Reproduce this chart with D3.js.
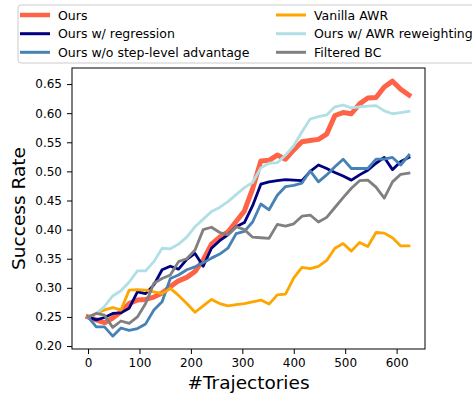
<!DOCTYPE html>
<html><head><meta charset="utf-8">
<script src="https://cdn.jsdelivr.net/npm/d3@7"></script>
<style>body{margin:0;background:#fff;}svg{display:block;font-family:"DejaVu Sans",sans-serif;}</style>
</head><body>
<svg id="c" width="472" height="394"></svg>
<script>
const xStep = 16;
const seriesNames = ["Ours","Ours w/ regression","Ours w/o step-level advantage","Vanilla AWR","Ours w/ AWR reweighting","Filtered BC"];
const seriesColors = ["#ff6347","#000080","#4682b4","#ffa500","#b0e0e6","#808080"];
const ours = [0.250,0.245,0.240,0.248,0.259,0.273,0.279,0.280,0.284,0.291,0.302,0.312,0.318,0.328,0.348,0.375,0.387,0.396,0.414,0.432,0.470,0.518,0.519,0.528,0.521,0.537,0.551,0.553,0.555,0.564,0.596,0.601,0.599,0.616,0.626,0.627,0.645,0.655,0.641,0.631];
const regression = [0.250,0.245,0.249,0.256,0.257,0.265,0.293,0.290,0.305,0.331,0.337,0.332,0.349,0.359,0.337,0.368,0.381,0.391,0.405,0.412,0.441,0.478,0.482,0.484,0.486,0.485,0.484,0.500,0.511,0.505,0.498,0.492,0.485,0.494,0.502,0.514,0.524,0.503,0.517,0.524];
const noStep = [0.250,0.233,0.233,0.217,0.231,0.227,0.230,0.238,0.262,0.276,0.316,0.322,0.331,0.336,0.343,0.351,0.358,0.368,0.393,0.397,0.413,0.444,0.434,0.459,0.474,0.476,0.480,0.501,0.482,0.494,0.508,0.521,0.505,0.505,0.505,0.521,0.521,0.524,0.511,0.528];
const vanillaAWR = [0.250,0.256,0.262,0.266,0.262,0.296,0.297,0.296,0.293,0.290,0.299,0.287,0.273,0.258,0.269,0.280,0.273,0.269,0.271,0.273,0.276,0.279,0.272,0.288,0.289,0.317,0.335,0.333,0.337,0.347,0.368,0.376,0.363,0.378,0.371,0.395,0.394,0.386,0.372,0.372];
const awrReweight = [0.250,0.256,0.268,0.286,0.295,0.310,0.329,0.329,0.345,0.368,0.367,0.375,0.387,0.405,0.418,0.431,0.438,0.448,0.460,0.472,0.481,0.506,0.514,0.515,0.528,0.544,0.568,0.590,0.594,0.597,0.611,0.614,0.609,0.611,0.612,0.613,0.604,0.599,0.601,0.603];
const filteredBC = [0.250,0.256,0.253,0.232,0.243,0.239,0.250,0.273,0.308,0.316,0.322,0.345,0.350,0.365,0.400,0.404,0.395,0.391,0.405,0.400,0.387,0.386,0.385,0.409,0.406,0.410,0.423,0.425,0.413,0.421,0.438,0.455,0.471,0.484,0.485,0.473,0.454,0.482,0.495,0.497];
const xTicks = [0,100,200,300,400,500,600];
const yTicks = [0.20,0.25,0.30,0.35,0.40,0.45,0.50,0.55,0.60,0.65];
const seriesValues = [ours, regression, noStep, vanillaAWR, awrReweight, filteredBC];
const seriesWidths = [5, 2.8, 2.8, 2.8, 2.8, 2.8];

const svg = d3.select("#c");
const L = 72, R = 425, T = 68, B = 349;
const x = d3.scaleLinear().domain([-31.2, 655.2]).range([L, R]);
const y = d3.scaleLinear().domain([0.1949, 0.6776]).range([B, T]);

const line = d3.line().x((d,i)=>x(i*xStep)).y(d=>y(d));
const g = svg.append("g");
seriesValues.forEach((vals, k) => {
  g.append("path").datum(vals).attr("d", line)
    .attr("fill","none").attr("stroke", seriesColors[k])
    .attr("stroke-width", seriesWidths[k])
    .attr("stroke-linejoin","round").attr("stroke-linecap","square");
});

// frame
svg.append("rect").attr("x",L).attr("y",T).attr("width",R-L).attr("height",B-T)
  .attr("fill","none").attr("stroke","#000").attr("stroke-width",1);

const xAxis = svg.append("g").attr("transform",`translate(0,${B})`)
  .call(d3.axisBottom(x).tickValues(xTicks).tickSize(5).tickPadding(4.5).tickSizeOuter(0));
const yAxis = svg.append("g").attr("transform",`translate(${L},0)`)
  .call(d3.axisLeft(y).tickValues(yTicks).tickFormat(d3.format(".2f")).tickSize(5).tickPadding(5).tickSizeOuter(0));
[xAxis,yAxis].forEach(a=>{
  a.select(".domain").remove();
  a.selectAll("text").attr("font-size",12).attr("font-family","DejaVu Sans").attr("fill","#000");
  a.selectAll("line").attr("stroke","#000");
});

svg.append("text").attr("x",(L+R)/2).attr("y",389).attr("text-anchor","middle")
  .attr("font-size",18.5).text("#Trajectories");
svg.append("text").attr("transform",`translate(25,${(T+B)/2}) rotate(-90)`).attr("text-anchor","middle")
  .attr("font-size",18.5).text("Success Rate");

// legend
const lg = svg.append("g");
lg.append("rect").attr("x",18).attr("y",5).attr("width",470).attr("height",58).attr("rx",3)
  .attr("fill","#fff").attr("fill-opacity",0.8).attr("stroke","#cccccc").attr("stroke-width",1);
const rowsY = [15, 33.7, 52.3];
const colX = [20, 276];
seriesNames.forEach((nm,k)=>{
  const col = Math.floor(k/3), row = k%3;
  const hx = colX[col], hy = rowsY[row];
  lg.append("line").attr("x1",hx).attr("x2",hx+30).attr("y1",hy).attr("y2",hy)
    .attr("stroke",seriesColors[k]).attr("stroke-width",k===0?4.5:3);
  lg.append("text").attr("x",hx+38).attr("y",hy).attr("dy","0.36em")
    .attr("font-size",12.5).text(nm);
});
</script>
</body></html>
